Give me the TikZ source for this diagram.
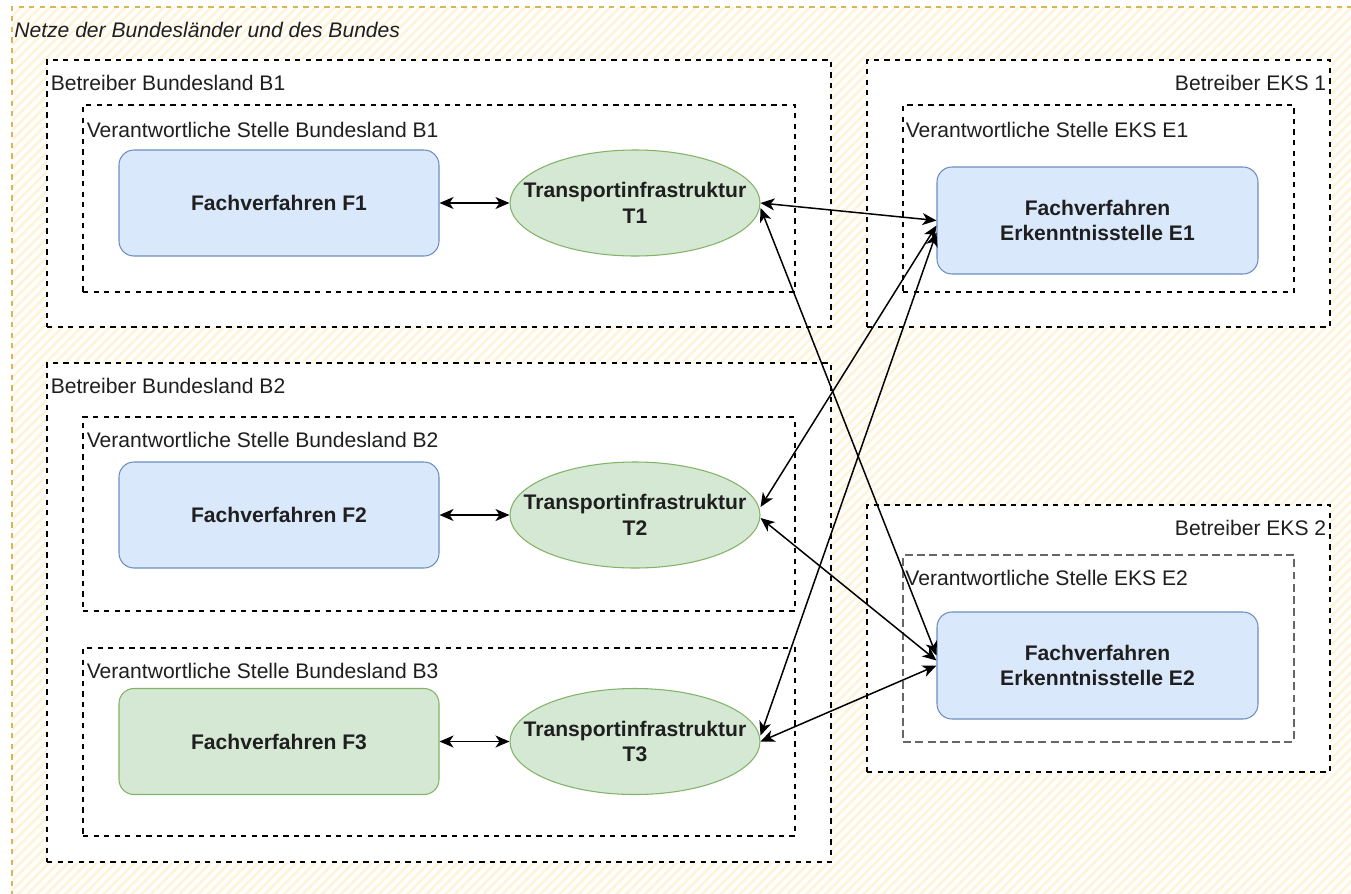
\documentclass[tikz,border=0pt]{standalone}
\usepackage{fontspec}
\setmainfont{Liberation Sans}
\usetikzlibrary{arrows.meta, positioning, shapes.geometric}
\definecolor{hatch}{HTML}{FFF4DA}
\definecolor{hatchline}{HTML}{D6B656}
\definecolor{blfill}{HTML}{DAE8FC}
\definecolor{bldraw}{HTML}{6C8EBF}
\definecolor{grfill}{HTML}{D5E8D4}
\definecolor{grdraw}{HTML}{82B366}
\begin{document}
\begin{tikzpicture}[
        every node/.style={font=\fontsize{12}{14.4}\selectfont, text=black!88},
        outer/.style={fill=white, inner sep=0pt},
        outerline/.style={draw=hatchline, line width=0.6pt, dash pattern=on 3pt off 3pt},
        group/.style={draw, fill=white, line width=0.6pt, dash pattern=on 3pt off 3pt, inner sep=0pt},
        vsgroup/.style={group},
        lbl/.style={inner sep=0pt},
        box/.style={draw=bldraw, fill=blfill, rounded corners=0.3cm, line width=0.6pt, align=center, minimum width=6.4cm, minimum height=2.12cm, font=\fontsize{12}{14.4}\selectfont\bfseries},
        ell/.style={ellipse, draw=grdraw, fill=grfill, line width=0.6pt, align=center, minimum width=5.0cm, minimum height=2.12cm, inner xsep=-0.5cm, inner ysep=0pt, font=\fontsize{12}{14.4}\selectfont\bfseries},
        arr/.style={{Stealth[length=2.8mm,width=2.4mm,inset=0.8mm]}-{Stealth[length=2.8mm,width=2.4mm,inset=0.8mm]}, line width=0.85pt}
    ]
        \useasboundingbox (0,0) rectangle (27.02,-17.86);
        \node[outer, minimum width=27.2cm, minimum height=18.2cm, anchor=north west] (netz) at (0.24,-0.14) {};
        \begin{scope}
            \clip (netz.north west) rectangle (27.02,-17.86);
            \foreach \i in {-18,-17.81,...,27.1}
                \draw[hatch, line width=1.5pt] (\i,-18) -- ++(18,18);
        \end{scope}
        \draw[outerline] (netz.south west) -- (netz.north west) -- (netz.north east);
        \node[lbl, anchor=west, font=\fontsize{12}{14.4}\selectfont\itshape] (netzlbl) at ([xshift=0.04cm, yshift=-0.46cm]netz.north west) {Netze der Bundesländer und des Bundes};

        \node[group, minimum width=15.68cm, minimum height=5.34cm] (bb1) at (8.78,-3.87) {};
        \node[lbl, anchor=west] (bb1lbl) at ([xshift=0.08cm, yshift=-0.46cm]bb1.north west) {Betreiber Bundesland B1};
        \node[vsgroup, minimum width=14.24cm, minimum height=3.74cm] (vs1) at (8.78,-3.97) {};
        \node[lbl, anchor=west] (vs1lbl) at ([xshift=0.08cm, yshift=-0.5cm]vs1.north west) {Verantwortliche Stelle Bundesland B1};
        \node[box] (f1) at (5.58,-4.06) {Fachverfahren F1};
        \node[ell] (t1) at (12.7,-4.06) {Transportinfrastruktur\\T1};

        \node[group, minimum width=15.68cm, minimum height=9.98cm] (bb2) at (8.78,-12.25) {};
        \node[lbl, anchor=west] (bb2lbl) at ([xshift=0.08cm, yshift=-0.46cm]bb2.north west) {Betreiber Bundesland B2};
        \node[vsgroup, minimum width=14.24cm, minimum height=3.88cm] (vs2) at (8.78,-10.28) {};
        \node[lbl, anchor=west] (vs2lbl) at ([xshift=0.08cm, yshift=-0.46cm]vs2.north west) {Verantwortliche Stelle Bundesland B2};
        \node[box] (f2) at (5.58,-10.3) {Fachverfahren F2};
        \node[ell] (t2) at (12.7,-10.3) {Transportinfrastruktur\\T2};
        \node[vsgroup, minimum width=14.24cm, minimum height=3.76cm] (vs3) at (8.78,-14.84) {};
        \node[lbl, anchor=west] (vs3lbl) at ([xshift=0.08cm, yshift=-0.46cm]vs3.north west) {Verantwortliche Stelle Bundesland B3};
        \node[box, draw=grdraw, fill=grfill] (f3) at (5.58,-14.83) {Fachverfahren F3};
        \node[ell] (t3) at (12.7,-14.83) {Transportinfrastruktur\\T3};

        \node[group, minimum width=9.26cm, minimum height=5.34cm] (be1) at (21.97,-3.87) {};
        \node[lbl, anchor=east] (be1lbl) at ([xshift=-0.08cm, yshift=-0.46cm]be1.north east) {Betreiber EKS 1};
        \node[vsgroup, minimum width=7.82cm, minimum height=3.74cm] (vse1) at (21.97,-3.97) {};
        \node[lbl, anchor=west] (vse1lbl) at ([xshift=0.06cm, yshift=-0.5cm]vse1.north west) {Verantwortliche Stelle EKS E1};
        \node[box, minimum width=6.42cm, minimum height=2.14cm] (e1) at (21.95,-4.41) {Fachverfahren\\Erkenntnisstelle E1};

        \node[group, minimum width=9.26cm, minimum height=5.34cm] (be2) at (21.97,-12.77) {};
        \node[lbl, anchor=east] (be2lbl) at ([xshift=-0.08cm, yshift=-0.46cm]be2.north east) {Betreiber EKS 2};
        \node[vsgroup, draw=black!60, line width=1pt, dash pattern=on 4.5pt off 2.5pt, minimum width=7.82cm, minimum height=3.74cm] (vse2) at (21.97,-12.97) {};
        \node[lbl, anchor=west] (vse2lbl) at ([xshift=0.06cm, yshift=-0.48cm]vse2.north west) {Verantwortliche Stelle EKS E2};
        \node[box, minimum width=6.42cm, minimum height=2.14cm] (e2) at (21.95,-13.31) {Fachverfahren\\Erkenntnisstelle E2};

        \draw[arr] (f1) -- (t1);
        \draw[arr] (f2) -- (t2);
        \draw[arr] (f3) -- (t3);
        \draw[arr] (t1.east) -- (e1.west);
        \draw[arr] ([yshift=-0.1cm]t1.east) -- ([yshift=0.2cm]e2.west);
        \draw[arr] ([yshift=0.16cm]t2.east) -- ([yshift=-0.1cm]e1.west);
        \draw[arr] ([yshift=-0.06cm]t2.east) -- ([yshift=0.1cm]e2.west);
        \draw[arr] ([yshift=0.12cm]t3.east) -- ([yshift=-0.24cm]e1.west);
        \draw[arr] (t3.east) -- (e2.west);
    \end{tikzpicture}
\end{document}
